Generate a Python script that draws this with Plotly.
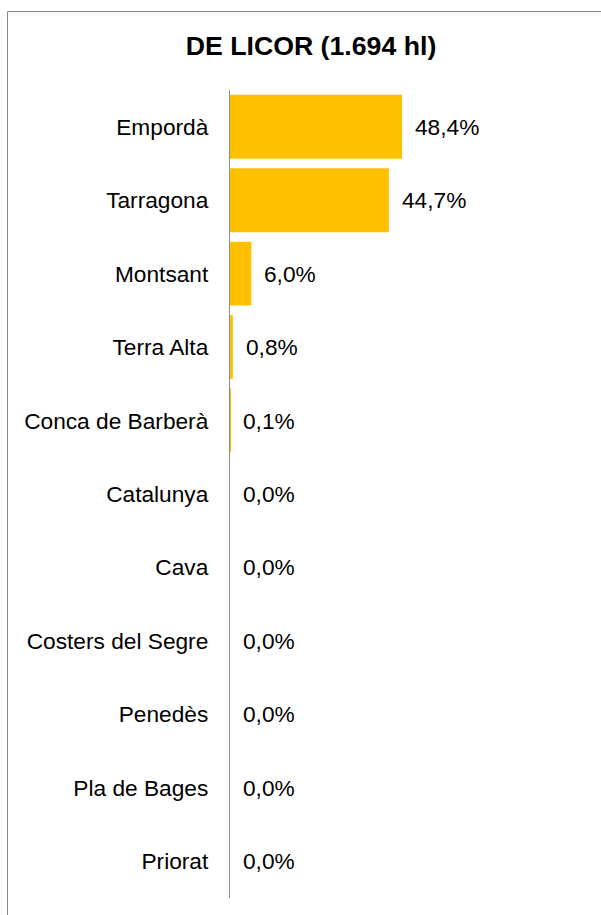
import plotly.graph_objects as go

categories = ["Empordà", "Tarragona", "Montsant", "Terra Alta", "Conca de Barberà",
              "Catalunya", "Cava", "Costers del Segre", "Penedès", "Pla de Bages", "Priorat"]
values = [48.4, 44.7, 6.0, 0.8, 0.1, 0.0, 0.0, 0.0, 0.0, 0.0, 0.0]
title_text = "DE LICOR (1.694 hl)"

FONT = "Liberation Sans, Arial, sans-serif"
FS = 22.7

fig = go.Figure()
fig.add_trace(go.Bar(
    x=values, y=categories, orientation="h",
    marker=dict(color="#FFC000", line=dict(width=0)),
    hoverinfo="skip",
))

for c, v in zip(categories, values):
    fig.add_annotation(
        x=v, y=c, xref="x", yref="y",
        text=f"{v:.1f}%".replace(".", ","),
        showarrow=False, xanchor="left", xshift=11,
        font=dict(family=FONT, size=FS, color="#000000"),
    )

L, R, T, B = 230, 21, 90, 17
W = 601 - L - R
H = 915 - T - B
xmax = W / (172 / 48.4)

def px(xp):
    return (xp - L) / W

def py(yp):
    return (915 - B - yp) / H

fig.add_shape(type="rect", xref="paper", yref="paper",
              x0=px(7.5), x1=px(640), y0=py(960), y1=py(11.5),
              line=dict(color="#8C8C8C", width=1), fillcolor="rgba(0,0,0,0)", layer="below")

fig.update_layout(
    width=601, height=915,
    margin=dict(l=L, r=R, t=T, b=B),
    paper_bgcolor="white", plot_bgcolor="white",
    bargap=0.13,
    showlegend=False,
    title=dict(text=f"<b>{title_text}</b>", x=311 / 601, xanchor="center", y=1 - 46 / 915, yanchor="middle",
               font=dict(family=FONT, size=26.7, color="#000000")),
    font=dict(family=FONT, size=FS, color="#000000"),
    xaxis=dict(range=[0, xmax], visible=False, fixedrange=True),
    yaxis=dict(autorange="reversed", showline=True, linecolor="#8C8C8C", linewidth=1.3,
               ticks="", showgrid=False, zeroline=False, ticklabelstandoff=16, fixedrange=True,
               tickfont=dict(family=FONT, size=FS, color="#000000")),
)

fig.write_html("out.html", config={"displayModeBar": False},
               post_script="document.body.style.margin='0';")
